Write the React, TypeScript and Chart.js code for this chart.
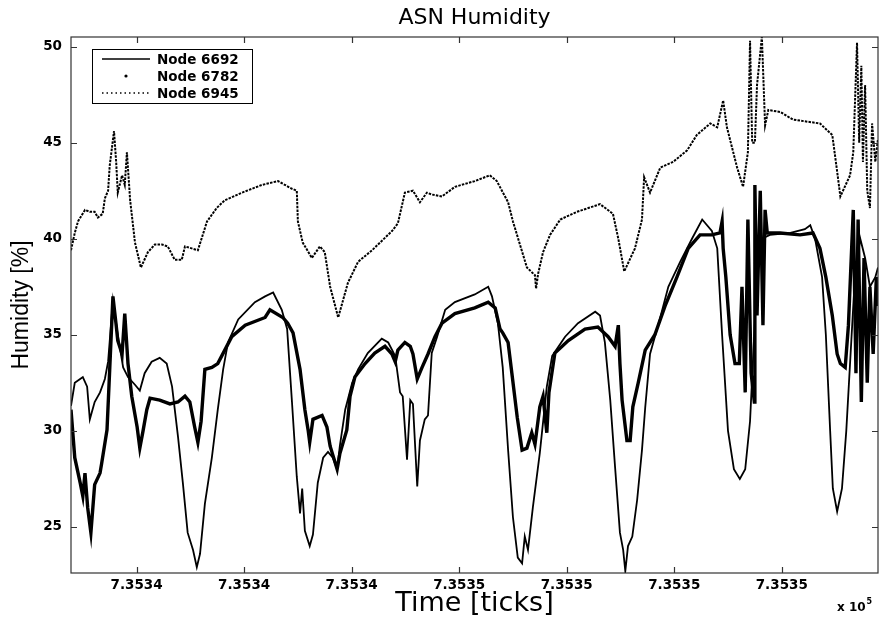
import { useEffect, useRef } from "react";
import { Chart, registerables } from "chart.js";

Chart.register(...registerables);

const chartTitle = "ASN Humidity";
const xAxisTitle = "Time [ticks]";
const yAxisTitle = "Humidity [%]";
const seriesLabels = ["Node 6692", "Node 6782", "Node 6945"];

const xMin = 735338.78;
const xMax = 735353.79;
const yMin = 22.6;
const yMax = 50.5;
const xTickValues = [735340, 735342, 735344, 735346, 735348, 735350, 735352];
const yTickValues = [25, 30, 35, 40, 45, 50];

const node6692Time = [
  735338.78, 735338.85, 735338.95, 735339.0, 735339.08, 735339.13, 735339.22, 735339.32, 735339.41, 735339.47,
  735339.56, 735339.65, 735339.75, 735339.84, 735339.97, 735340.06, 735340.15, 735340.28, 735340.43, 735340.56,
  735340.66, 735340.77, 735340.86, 735340.95, 735341.05, 735341.12, 735341.18, 735341.27, 735341.4, 735341.51,
  735341.61, 735341.7, 735341.89, 735342.2, 735342.39, 735342.54, 735342.7, 735342.8, 735342.89, 735342.98,
  735343.04, 735343.08, 735343.13, 735343.22, 735343.28, 735343.37, 735343.47, 735343.56, 735343.65, 735343.73,
  735343.78, 735343.88, 735344.01, 735344.12, 735344.3, 735344.56, 735344.68, 735344.81, 735344.9, 735344.95,
  735345.03, 735345.09, 735345.14, 735345.22, 735345.27, 735345.36, 735345.42, 735345.49, 735345.59, 735345.74,
  735345.92, 735346.29, 735346.54, 735346.61, 735346.72, 735346.81, 735346.91, 735347.0, 735347.09, 735347.17,
  735347.22, 735347.28, 735347.37, 735347.5, 735347.63, 735347.73, 735347.97, 735348.21, 735348.53, 735348.62,
  735348.71, 735348.81, 735348.9, 735348.99, 735349.05, 735349.09, 735349.14, 735349.22, 735349.31, 735349.4,
  735349.46, 735349.55, 735349.74, 735349.89, 735350.11, 735350.33, 735350.52, 735350.7, 735350.8, 735350.89,
  735351.0, 735351.11, 735351.22, 735351.32, 735351.41, 735351.47, 735351.54, 735351.63, 735351.78, 735352.16,
  735352.43, 735352.53, 735352.62, 735352.75, 735352.82, 735352.9, 735352.95, 735353.03, 735353.12, 735353.2,
  735353.27, 735353.36, 735353.46, 735353.55, 735353.64, 735353.74, 735353.79,
];
const node6692Humidity = [
  31.3, 32.5, 32.7, 32.8, 32.3, 30.6, 31.5, 32.0, 32.7, 33.6,
  36.8, 35.0, 33.3, 32.8, 32.4, 32.1, 33.0, 33.6, 33.8, 33.5,
  32.3, 29.7, 27.3, 24.7, 23.8, 22.9, 23.6, 26.2, 28.6, 31.1,
  33.2, 34.6, 35.8, 36.7, 37.0, 37.2, 36.3, 35.3, 31.5, 27.6,
  25.7, 27.0, 24.8, 24.0, 24.6, 27.3, 28.6, 28.9, 28.6, 28.0,
  29.2, 31.1, 32.5, 33.2, 34.05, 34.8, 34.6, 33.9, 32.0, 31.8,
  28.5, 31.6, 31.4, 27.1, 29.5, 30.6, 30.8, 34.05, 34.9, 36.3,
  36.7, 37.1, 37.5, 37.0, 35.6, 33.3, 29.0, 25.5, 23.4, 23.1,
  24.5, 23.8, 26.0, 28.85, 32.3, 33.9, 34.9, 35.6, 36.2, 36.0,
  34.6, 31.6, 28.1, 24.7, 23.8, 22.7, 24.0, 24.5, 26.4, 29.0,
  31.2, 34.0, 35.9, 37.5, 38.8, 40.0, 41.0, 40.4, 39.5, 35.0,
  30.0, 28.0, 27.5, 28.0, 30.5, 34.0, 38.0, 40.0, 40.2, 40.3,
  40.5, 40.7, 40.0, 38.0, 35.0, 30.0, 27.0, 25.8, 27.0, 30.0,
  33.5, 38.0, 40.0, 39.0, 37.5, 38.0, 38.5,
];

const node6782Time = [
  735338.78, 735338.85, 735338.95, 735339.0, 735339.04, 735339.09, 735339.15, 735339.22, 735339.32, 735339.35,
  735339.45, 735339.5, 735339.56, 735339.62, 735339.65, 735339.73, 735339.78, 735339.84, 735339.91, 735340.01,
  735340.06, 735340.12, 735340.19, 735340.25, 735340.43, 735340.62, 735340.77, 735340.9, 735340.99, 735341.08,
  735341.14, 735341.2, 735341.27, 735341.4, 735341.51, 735341.64, 735341.77, 735342.02, 735342.39, 735342.48,
  735342.72, 735342.81, 735342.91, 735343.04, 735343.13, 735343.19, 735343.22, 735343.28, 735343.45, 735343.54,
  735343.6, 735343.73, 735343.78, 735343.91, 735343.97, 735344.06, 735344.25, 735344.43, 735344.62, 735344.75,
  735344.81, 735344.86, 735344.99, 735345.09, 735345.14, 735345.22, 735345.31, 735345.42, 735345.55, 735345.68,
  735345.92, 735346.29, 735346.54, 735346.67, 735346.76, 735346.81, 735346.91, 735346.98, 735347.08, 735347.17,
  735347.26, 735347.35, 735347.41, 735347.5, 735347.56, 735347.63, 735347.67, 735347.78, 735348.03, 735348.34,
  735348.58, 735348.77, 735348.9, 735348.96, 735348.99, 735349.03, 735349.12, 735349.18, 735349.23, 735349.33,
  735349.46, 735349.64, 735349.83, 735350.05, 735350.26, 735350.48, 735350.7, 735350.85, 735350.89, 735350.91,
  735350.96, 735351.04, 735351.13, 735351.21, 735351.26, 735351.32, 735351.37, 735351.43, 735351.49, 735351.5,
  735351.54, 735351.6, 735351.65, 735351.69, 735351.73, 735351.97, 735352.34, 735352.58, 735352.71, 735352.82,
  735352.94, 735353.03, 735353.09, 735353.18, 735353.24, 735353.33, 735353.38, 735353.42, 735353.48, 735353.53,
  735353.59, 735353.64, 735353.7, 735353.76, 735353.79,
];
const node6782Humidity = [
  31.1, 28.6, 27.3, 26.6, 27.8, 26.0, 24.7, 27.2, 27.8, 28.3,
  30.05, 33.2, 37.0, 35.5, 34.7, 34.0, 36.1, 33.5, 31.8, 30.2,
  29.1, 30.0, 31.1, 31.7, 31.6, 31.4, 31.5, 31.8, 31.5, 30.2,
  29.4, 30.5, 33.2, 33.3, 33.5, 34.2, 34.9, 35.5, 35.9, 36.3,
  35.9, 35.6, 35.1, 33.2, 31.1, 30.05, 29.4, 30.6, 30.8, 30.2,
  29.2, 28.0, 28.8, 30.05, 31.8, 32.8, 33.5, 34.05, 34.4, 34.0,
  33.6, 34.2, 34.6, 34.4, 34.0, 32.7, 33.3, 34.0, 34.9, 35.6,
  36.1, 36.4, 36.7, 36.4, 35.3, 35.1, 34.6, 33.0, 30.7, 29.0,
  29.1, 29.9, 29.3, 31.25, 31.8, 29.9, 32.0, 34.05, 34.7, 35.3,
  35.4, 34.9, 34.4, 35.5, 33.5, 31.6, 29.5, 29.5, 31.25, 32.5,
  34.2, 35.0, 36.5, 38.0, 39.5, 40.2, 40.2, 40.3, 40.9, 39.5,
  38.0, 35.0, 33.5, 33.5, 37.5, 32.0, 41.0, 33.0, 31.5, 42.8,
  36.0, 42.5, 35.5, 41.5, 40.3, 40.3, 40.2, 40.3, 39.5, 38.0,
  36.0, 34.0, 33.5, 33.3, 35.5, 41.5, 33.0, 41.0, 31.5, 39.0,
  32.5, 37.5, 34.0, 38.0, 36.5,
];

const node6945Time = [
  735338.78, 735338.85, 735338.91, 735339.04, 735339.13, 735339.22, 735339.28, 735339.37, 735339.41, 735339.47,
  735339.5, 735339.58, 735339.62, 735339.65, 735339.73, 735339.78, 735339.82, 735339.88, 735339.97, 735340.08,
  735340.21, 735340.34, 735340.47, 735340.58, 735340.71, 735340.84, 735340.9, 735341.14, 735341.31, 735341.49,
  735341.64, 735341.96, 735342.33, 735342.63, 735342.89, 735342.98, 735343.0, 735343.09, 735343.26, 735343.41,
  735343.5, 735343.6, 735343.75, 735343.93, 735344.12, 735344.38, 735344.75, 735344.86, 735344.99, 735345.14,
  735345.27, 735345.4, 735345.49, 735345.68, 735345.92, 735346.29, 735346.57, 735346.7, 735346.91, 735347.0,
  735347.26, 735347.41, 735347.43, 735347.47, 735347.56, 735347.69, 735347.88, 735348.19, 735348.62, 735348.86,
  735348.96, 735349.07, 735349.27, 735349.4, 735349.44, 735349.55, 735349.74, 735349.98, 735350.24, 735350.42,
  735350.67, 735350.8, 735350.91, 735350.98, 735351.17, 735351.28, 735351.37, 735351.41, 735351.45, 735351.5,
  735351.54, 735351.63, 735351.69, 735351.75, 735351.97, 735352.21, 735352.71, 735352.94, 735353.03, 735353.09,
  735353.27, 735353.33, 735353.4, 735353.44, 735353.48, 735353.51, 735353.55, 735353.59, 735353.64, 735353.68,
  735353.74, 735353.79,
];
const node6945Humidity = [
  39.4, 40.3, 40.9, 41.5, 41.4, 41.4, 41.1, 41.3, 42.1, 42.5,
  43.8, 45.6, 44.0, 42.4, 43.3, 42.8, 44.5, 42.0, 39.8, 38.5,
  39.3, 39.7, 39.7, 39.6, 38.9, 38.9, 39.6, 39.4, 40.9, 41.6,
  42.0, 42.4, 42.8, 43.0, 42.6, 42.5, 40.9, 39.8, 39.0, 39.6,
  39.3, 37.5, 35.9, 37.7, 38.8, 39.4, 40.4, 40.8, 42.4, 42.5,
  41.9, 42.4, 42.3, 42.2, 42.7, 43.0, 43.3, 43.0, 41.9, 40.9,
  38.5, 38.1, 37.4, 38.2, 39.3, 40.2, 41.0, 41.4, 41.8, 41.3,
  40.0, 38.3, 39.5, 41.0, 43.2, 42.4, 43.7, 44.0, 44.6, 45.4,
  46.0, 45.8, 47.2, 45.8, 43.7, 42.7, 44.5, 50.3, 45.0, 45.0,
  48.0, 50.5, 45.9, 46.7, 46.6, 46.2, 46.0, 45.4, 43.5, 42.2,
  43.3, 44.5, 50.2, 45.0, 49.0, 44.0, 48.0, 42.5, 41.6, 46.0,
  44.0, 45.2,
];

const toPoints = (xs: number[], ys: number[]) => xs.map((x, i) => ({ x, y: ys[i] }));

const matlabDecor = {
  id: "matlabDecor",
  afterDraw(chart: any) {
    const { ctx, chartArea } = chart;
    const { left, right, top, bottom } = chartArea;
    const xs = chart.scales.x;
    const ys = chart.scales.y;
    ctx.save();
    // frame
    ctx.strokeStyle = "#333";
    ctx.lineWidth = 1.2;
    ctx.strokeRect(left, top, right - left, bottom - top);
    // inward ticks on all four sides
    const tl = 6;
    ctx.beginPath();
    xTickValues.forEach((v) => {
      const px = Math.round(xs.getPixelForValue(v)) + 0.5;
      ctx.moveTo(px, bottom);
      ctx.lineTo(px, bottom - tl);
      ctx.moveTo(px, top);
      ctx.lineTo(px, top + tl);
    });
    yTickValues.forEach((v) => {
      const py = Math.round(ys.getPixelForValue(v)) + 0.5;
      ctx.moveTo(left, py);
      ctx.lineTo(left + tl, py);
      ctx.moveTo(right, py);
      ctx.lineTo(right - tl, py);
    });
    ctx.stroke();

    // title
    ctx.fillStyle = "#000";
    ctx.font = "22px 'DejaVu Sans'";
    ctx.textAlign = "center";
    ctx.textBaseline = "middle";
    ctx.fillText(chartTitle, (left + right) / 2, 18);

    // legend
    const bx = 92, by = 49, bw = 160, bh = 54;
    ctx.fillStyle = "#fff";
    ctx.fillRect(bx, by, bw, bh);
    ctx.strokeStyle = "#000";
    ctx.lineWidth = 1;
    ctx.strokeRect(bx + 0.5, by + 0.5, bw, bh);
    const rows = [59, 76, 93];
    ctx.lineWidth = 1.3;
    ctx.beginPath();
    ctx.moveTo(102, rows[0]);
    ctx.lineTo(150, rows[0]);
    ctx.stroke();
    ctx.fillStyle = "#000";
    ctx.beginPath();
    ctx.arc(126, rows[1], 1.6, 0, Math.PI * 2);
    ctx.fill();
    ctx.setLineDash([1.5, 3]);
    ctx.beginPath();
    ctx.moveTo(102, rows[2]);
    ctx.lineTo(150, rows[2]);
    ctx.stroke();
    ctx.setLineDash([]);
    ctx.font = "bold 13.5px 'DejaVu Sans'";
    ctx.textAlign = "left";
    ctx.textBaseline = "middle";
    seriesLabels.forEach((label, i) => {
      ctx.fillText(label, 157, rows[i] + 1);
    });

    // axis exponent
    ctx.font = "bold 12px 'DejaVu Sans'";
    ctx.textAlign = "left";
    ctx.textBaseline = "alphabetic";
    ctx.fillText("x 10", 837, 611);
    const w = ctx.measureText("x 10").width;
    ctx.font = "bold 8px 'DejaVu Sans'";
    ctx.fillText("5", 837 + w + 1, 604);
    ctx.restore();
  },
};

export default function App() {
  const canvasRef = useRef<HTMLCanvasElement | null>(null);

  useEffect(() => {
    const canvas = canvasRef.current;
    if (!canvas) return;
    const chart = new Chart(canvas, {
      type: "line",
      data: {
        datasets: [
          {
            label: seriesLabels[0],
            data: toPoints(node6692Time, node6692Humidity),
            borderColor: "#000",
            borderWidth: 1.8,
            pointRadius: 0,
            tension: 0,
          },
          {
            label: seriesLabels[1],
            data: toPoints(node6782Time, node6782Humidity),
            borderColor: "#000",
            borderWidth: 3.4,
            pointRadius: 0,
            tension: 0,
          },
          {
            label: seriesLabels[2],
            data: toPoints(node6945Time, node6945Humidity),
            borderColor: "#000",
            borderWidth: 2,
            borderDash: [2.5, 1.2],
            pointRadius: 0,
            tension: 0,
          },
        ],
      },
      options: {
        responsive: false,
        animation: false,
        layout: { padding: { top: 37, right: 5, left: 0, bottom: 0 } },
        plugins: {
          legend: { display: false },
          title: { display: false },
          tooltip: { enabled: false },
        },
        scales: {
          x: {
            type: "linear",
            min: xMin,
            max: xMax,
            afterBuildTicks: (scale: any) => {
              scale.ticks = xTickValues.map((v) => ({ value: v }));
            },
            afterFit: (scale: any) => {
              scale.height = 44;
            },
            grid: { display: false, drawTicks: false, tickLength: 0 },
            border: { display: false },
            ticks: {
              padding: 4,
              color: "#000",
              maxRotation: 0,
              autoSkip: false,
              font: { family: "'DejaVu Sans'", weight: "bold", size: 13.5 },
              callback: (v: any) => (Number(v) / 1e5).toFixed(4),
            },
            title: {
              display: true,
              text: xAxisTitle,
              color: "#000",
              font: { family: "'DejaVu Sans'", size: 27, lineHeight: 1.0 },
              padding: { top: 0, bottom: 0 },
            },
          },
          y: {
            type: "linear",
            min: yMin,
            max: yMax,
            afterBuildTicks: (scale: any) => {
              scale.ticks = yTickValues.map((v) => ({ value: v }));
            },
            afterFit: (scale: any) => {
              scale.width = 71;
            },
            grid: { display: false, drawTicks: false, tickLength: 0 },
            border: { display: false },
            ticks: {
              padding: 9,
              color: "#000",
              autoSkip: false,
              font: { family: "'DejaVu Sans'", weight: "bold", size: 13.5 },
              callback: (v: any) => String(v),
            },
            title: {
              display: true,
              text: yAxisTitle,
              color: "#000",
              font: { family: "'Liberation Sans'", size: 23 },
              padding: { top: 8, bottom: 0 },
            },
          },
        },
      },
      plugins: [matlabDecor],
    } as any);
    return () => chart.destroy();
  }, []);

  return (
    <div style={{ position: "absolute", left: 0, top: 0, width: 883, height: 617, background: "#fff" }}>
      <canvas ref={canvasRef} width={883} height={617} style={{ display: "block" }} />
    </div>
  );
}
